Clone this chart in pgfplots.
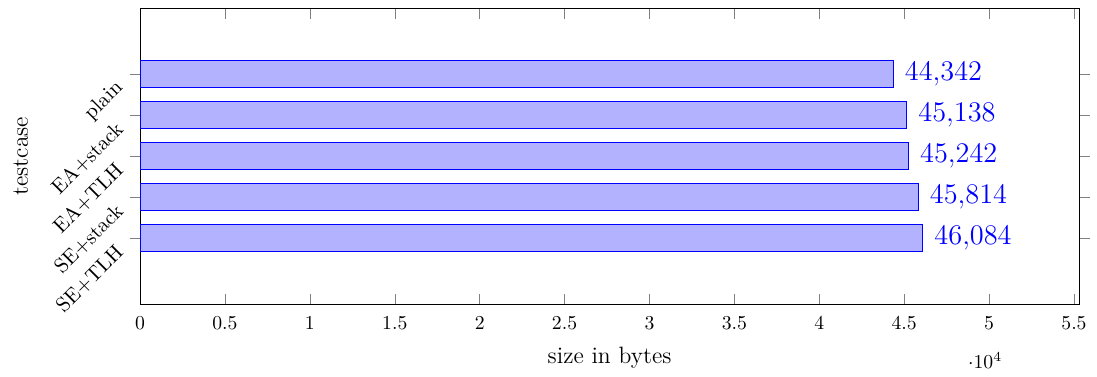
\documentclass[border=0pt]{standalone}
\usepackage{pgfplots}
\pgfplotsset{compat=1.18}
\begin{document}
\begin{tikzpicture}
\begin{axis}[
  scale only axis,
  width=476.6pt, height=150.3pt,
  xbar, bar width=13.55pt,
  major tick length=5.3pt,
  xmin=0, xmax=55300,
  ymin=-1.61, ymax=5.61, y dir=reverse,
  ytick={0,1,2,3,4},
  yticklabels={plain,EA+stack,EA+TLH,SE+stack,SE+TLH},
  yticklabel style={xshift=-2.5pt, yshift=-3pt, rotate=45, anchor=east, font=\fontsize{10.5}{12}\selectfont},
  xtick={0,5000,10000,15000,20000,25000,30000,35000,40000,45000,50000,55000},
  xticklabel style={yshift=-3pt},
  scaled x ticks=base 10:-4,
  xlabel={size in bytes},
  xlabel style={font=\large, yshift=-2pt},
  ylabel={testcase},
  ylabel style={font=\large, at={(axis description cs:-0.127,0.5)}, anchor=center},
  nodes near coords,
  nodes near coords style={font=\Large, text=blue, xshift=2.5pt},
]
\addplot[color=blue, fill=blue!30] coordinates {
  (44342,0) (45138,1) (45242,2) (45814,3) (46084,4)
};
\end{axis}
\pgfresetboundingbox
\path ([xshift=-71.1pt,yshift=-36.5pt]current axis.south west) rectangle ([xshift=9.1pt,yshift=4.1pt]current axis.north east);
\end{tikzpicture}
\end{document}
